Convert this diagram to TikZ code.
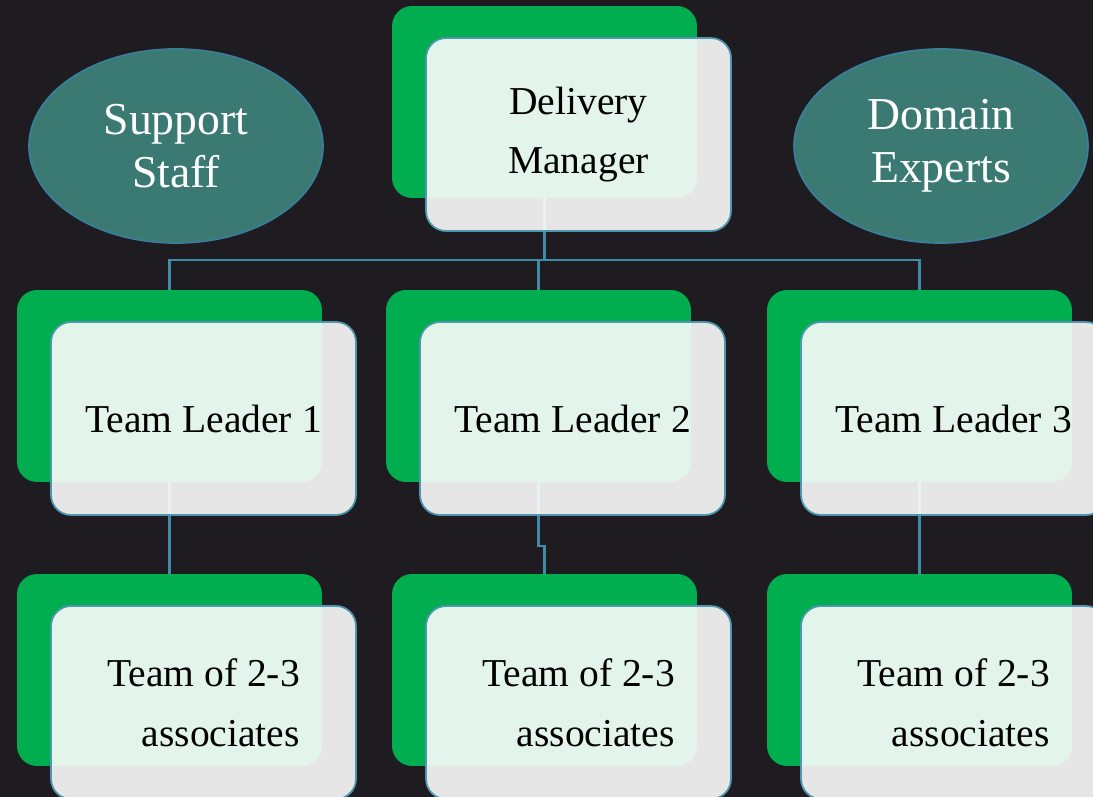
\documentclass[tikz,border=0pt]{standalone}
\usepackage{fontspec}
\setmainfont{Liberation Serif}
\usetikzlibrary{shapes.geometric}
\definecolor{bg}{HTML}{1E1C20}
\definecolor{grn}{HTML}{00AD4F}
\definecolor{rim}{HTML}{4F97B0}
\definecolor{wire}{HTML}{3F8CA6}
\definecolor{sea}{HTML}{3B7A72}
\definecolor{searim}{HTML}{3A7E9B}

\begin{document}
\begin{tikzpicture}[x=0.02cm, y=-0.02cm,
    back/.style={rectangle, rounded corners=0.4cm, fill=grn, minimum width=6.1cm, minimum height=3.84cm, inner sep=0pt},
    front/.style={rectangle, rounded corners=0.4cm, draw=rim, line width=1pt, fill=white, fill opacity=0.89, text opacity=1, minimum width=6.1cm, minimum height=3.86cm, inner sep=0pt, align=center, font=\fontsize{22.5}{34}\selectfont},
    blob/.style={ellipse, fill=sea, draw=searim, line width=1pt, minimum width=5.88cm, minimum height=3.88cm, inner sep=0pt, align=center, text=white, font=\fontsize{26}{30}\selectfont},
    link/.style={draw=wire, line width=1.5pt}]
        \useasboundingbox (0,0) rectangle (1093,797);
        \fill[bg] (0,0) rectangle (1093,797);

        \node[back] (dm) at (544.5,102) {};
        \node[back] (tl1) at (169.5,386) {};
        \node[back] (tl2) at (538.5,386) {};
        \node[back] (tl3) at (919.5,386) {};
        \node[back] (tm1) at (169.5,670) {};
        \node[back] (tm2) at (544.5,670) {};
        \node[back] (tm3) at (919.5,670) {};

        \coordinate (bus) at (0,260);
        \coordinate (jog) at (0,546);
        \draw[link] (dm.south) -- (dm.south |- bus) -| (tl1.north);
        \draw[link] (dm.south) -- (dm.south |- bus) -| (tl2.north);
        \draw[link] (dm.south) -- (dm.south |- bus) -| (tl3.north);
        \draw[link] (tl1.south) -- (tl1.south |- jog) -| (tm1.north);
        \draw[link] (tl2.south) -- (tl2.south |- jog) -| (tm2.north);
        \draw[link] (tl3.south) -- (tl3.south |- jog) -| (tm3.north);

        \node[front] (dm') at (578.5,134.5) {Delivery\\Manager};
        \node[front] (tl1') at (203.5,418.5) {Team Leader 1};
        \node[front] (tl2') at (572.5,418.5) {Team Leader 2};
        \node[front] (tl3') at (953.5,418.5) {Team Leader 3};
        \node[front, align=right] (tm1') at (203.5,702.5) {Team of 2-3\\associates};
        \node[front, align=right] (tm2') at (578.5,702.5) {Team of 2-3\\associates};
        \node[front, align=right] (tm3') at (953.5,702.5) {Team of 2-3\\associates};

        \node[blob] (ss) at (176,146) {Support\\Staff};
        \node[blob] (de) at (941,146) {Domain\\Experts};
      \end{tikzpicture}
\end{document}
